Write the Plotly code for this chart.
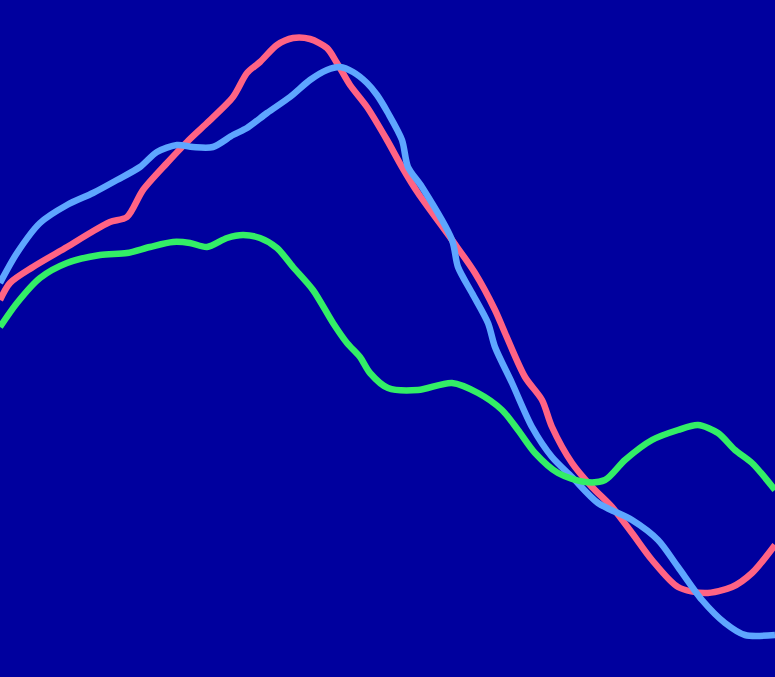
import plotly.graph_objects as go

# Series sampled along a 0-775 horizontal scale, values on a 0-677 vertical scale
red_x = [0, 10, 33, 67, 90, 110, 127, 143, 167, 187, 207, 233, 247, 260, 277, 293, 310, 327, 337, 350, 367, 387,
         402, 418, 452, 475, 495, 505, 525, 542, 552, 572, 592, 612, 632, 652, 678, 705, 732, 752, 775]
red_y = [300, 283, 267, 247, 233, 222, 217, 190, 163, 142, 123, 97, 73, 62, 45, 38, 39, 48, 63, 85, 107, 140,
         167, 193, 240, 273, 310, 333, 377, 400, 427, 463, 487, 507, 533, 560, 587, 593, 587, 573, 545]

blue_x = [0, 17, 40, 67, 93, 117, 140, 157, 177, 193, 213, 233, 247, 267, 290, 310, 327, 340, 353, 367, 377, 388,
          402, 408, 422, 452, 458, 472, 488, 495, 512, 532, 552, 572, 598, 632, 658, 678, 702, 725, 745, 775]
blue_y = [283, 253, 223, 205, 193, 180, 167, 152, 145, 147, 147, 135, 128, 113, 97, 80, 70, 67, 72, 83, 95, 113,
          140, 167, 187, 240, 267, 293, 323, 347, 383, 427, 457, 477, 503, 520, 540, 567, 600, 623, 635, 635]

green_x = [0, 17, 40, 67, 100, 127, 150, 173, 190, 207, 227, 243, 260, 277, 293, 313, 333, 347, 360, 370, 388,
           418, 452, 478, 502, 518, 535, 558, 585, 605, 625, 652, 678, 698, 718, 735, 752, 775]
green_y = [327, 303, 278, 263, 255, 253, 247, 242, 243, 247, 238, 235, 238, 248, 267, 290, 323, 343, 357, 373, 388,
           390, 383, 393, 410, 430, 453, 473, 482, 480, 460, 440, 430, 425, 433, 450, 463, 490]

series = [
    (red_x, red_y, "#ff6384"),
    (blue_x, blue_y, "#5ea6ff"),
    (green_x, green_y, "#33ee66"),
]

fig = go.Figure()
for xs, ys, col in series:
    fig.add_trace(go.Scatter(
        x=xs, y=[677 - v for v in ys], mode="lines",
        line=dict(color=col, width=6.5, shape="spline", smoothing=0.8),
        hoverinfo="skip", showlegend=False,
    ))

fig.update_layout(
    width=775, height=677,
    margin=dict(l=0, r=0, t=0, b=0),
    paper_bgcolor="#00009e",
    plot_bgcolor="#00009e",
    xaxis=dict(range=[0, 775], visible=False, fixedrange=True),
    yaxis=dict(range=[0, 677], visible=False, fixedrange=True),
    showlegend=False,
)

fig.write_html(
    "out.html",
    config={"displayModeBar": False},
    post_script="document.body.style.margin='0';document.body.style.overflow='hidden';document.body.style.background='#00009e';",
)
